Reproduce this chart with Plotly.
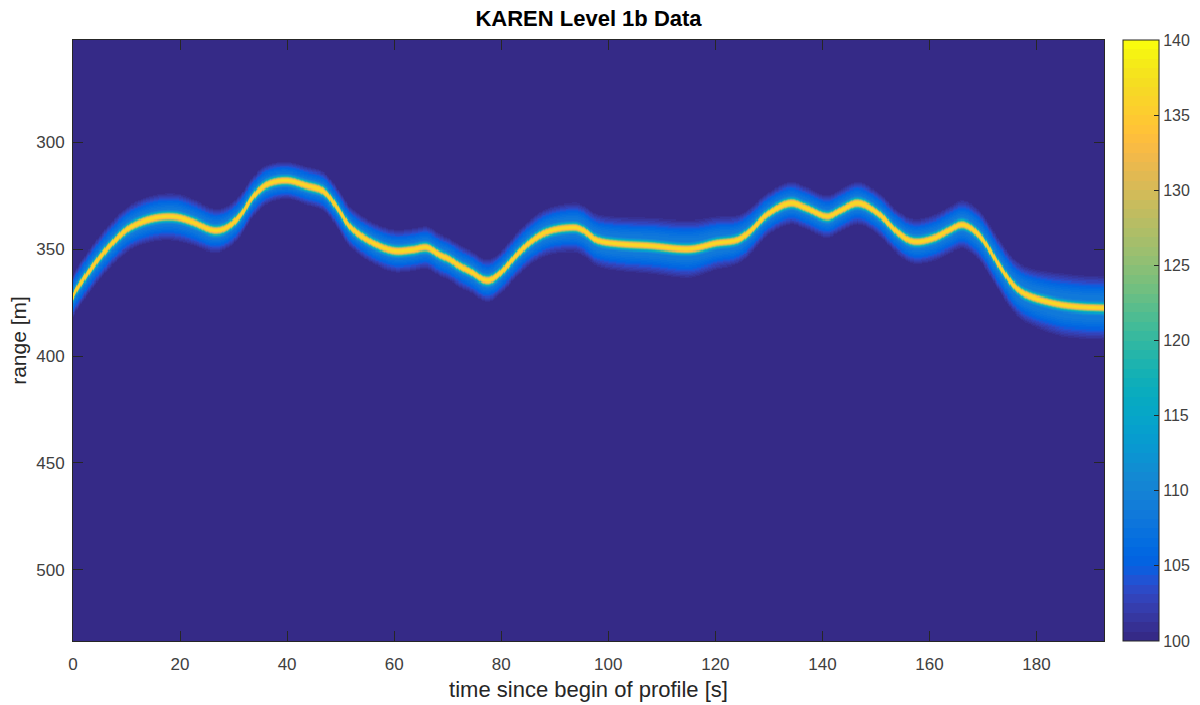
import numpy as np
import plotly.graph_objects as go

# ---- data ----
# centre line of the echo (time [s], range [m])
center_time = [0.0, 0.4, 3.8, 6.9, 10.0, 13.1, 16.2, 19.4, 22.5, 26.2, 28.7, 31.2, 33.7, 36.2,
               39.9, 43.6, 46.8, 49.2, 51.7, 55.5, 59.8, 63.5, 66.1, 68.5, 70.4, 72.3, 74.2,
               77.3, 79.8, 82.9, 86.0, 89.1, 93.5, 95.3, 97.8, 101.6, 107.8, 115.2, 120.2,
               124.0, 126.4, 129.6, 133.9, 137.0, 140.8, 143.3, 146.7, 150.7, 153.8, 156.9,
               160.7, 163.8, 166.3, 169.4, 173.1, 175.6, 178.1, 183.7, 188.1, 192.6]
center_range = [372.0, 369.9, 357.9, 348.6, 341.1, 337.2, 335.2, 335.2, 337.6, 341.4, 340.0,
                334.5, 325.5, 320.0, 318.0, 320.5, 323.2, 330.2, 339.5, 346.5, 350.9, 350.4,
                349.4, 352.8, 355.0, 358.2, 360.6, 364.8, 361.3, 352.8, 345.8, 341.6, 340.0,
                341.4, 345.8, 347.6, 348.6, 350.1, 347.3, 345.8, 341.9, 334.1, 328.6, 331.0,
                334.9, 332.1, 328.6, 334.1, 341.9, 346.5, 345.0, 341.1, 338.7, 344.2, 358.2,
                366.8, 371.5, 375.7, 377.2, 377.7]

# spread of the blue halo around the line (time [s], half width [m])
halo_time = [0, 20, 40, 60, 80, 100, 115, 130, 150, 165, 175, 185, 192.6]
halo_width = [8, 9, 7, 8, 8, 10, 11, 8, 8, 9, 10, 12, 12]

# cross-section of the echo: offset from the line [m] -> excess over 100
core_offset = [0.0, 0.5, 1.0, 1.5, 2.0, 2.5, 3.0, 3.5]
core_excess = [28.0, 27.0, 24.0, 17.0, 10.0, 5.0, 2.0, 0.0]
halo_offset = [0.0, 2.0, 4.0, 6.0, 8.0, 10.0, 11.0]
halo_excess = [9.0, 9.0, 8.0, 6.0, 3.0, 0.5, 0.0]

x_ticks = [0, 20, 40, 60, 80, 100, 120, 140, 160, 180]
y_ticks = [300, 350, 400, 450, 500]
c_ticks = [100, 105, 110, 115, 120, 125, 130, 135, 140]

# parula colormap (64 entries)
parula = [
    [0.2081, 0.1663, 0.5292], [0.2116, 0.1898, 0.5777], [0.2123, 0.2138, 0.6270], [0.2081, 0.2386, 0.6771],
    [0.1959, 0.2645, 0.7279], [0.1707, 0.2919, 0.7792], [0.1253, 0.3242, 0.8303], [0.0591, 0.3598, 0.8683],
    [0.0117, 0.3875, 0.8820], [0.0060, 0.4086, 0.8828], [0.0165, 0.4266, 0.8786], [0.0329, 0.4430, 0.8720],
    [0.0498, 0.4586, 0.8641], [0.0629, 0.4737, 0.8554], [0.0723, 0.4887, 0.8467], [0.0779, 0.5040, 0.8384],
    [0.0793, 0.5200, 0.8312], [0.0749, 0.5375, 0.8263], [0.0641, 0.5570, 0.8240], [0.0488, 0.5772, 0.8228],
    [0.0343, 0.5966, 0.8199], [0.0265, 0.6137, 0.8135], [0.0239, 0.6287, 0.8038], [0.0231, 0.6418, 0.7913],
    [0.0228, 0.6535, 0.7768], [0.0267, 0.6642, 0.7607], [0.0384, 0.6743, 0.7436], [0.0590, 0.6838, 0.7254],
    [0.0843, 0.6928, 0.7062], [0.1133, 0.7015, 0.6859], [0.1453, 0.7098, 0.6646], [0.1801, 0.7177, 0.6424],
    [0.2178, 0.7250, 0.6193], [0.2586, 0.7317, 0.5954], [0.3022, 0.7376, 0.5712], [0.3482, 0.7424, 0.5473],
    [0.3953, 0.7459, 0.5244], [0.4420, 0.7481, 0.5033], [0.4871, 0.7491, 0.4840], [0.5300, 0.7491, 0.4661],
    [0.5709, 0.7485, 0.4494], [0.6099, 0.7473, 0.4337], [0.6473, 0.7456, 0.4188], [0.6834, 0.7435, 0.4044],
    [0.7184, 0.7411, 0.3905], [0.7525, 0.7384, 0.3768], [0.7858, 0.7356, 0.3633], [0.8185, 0.7327, 0.3498],
    [0.8507, 0.7299, 0.3360], [0.8824, 0.7274, 0.3217], [0.9139, 0.7258, 0.3063], [0.9450, 0.7261, 0.2886],
    [0.9739, 0.7314, 0.2666], [0.9938, 0.7455, 0.2403], [0.9990, 0.7653, 0.2164], [0.9955, 0.7861, 0.1967],
    [0.9880, 0.8066, 0.1794], [0.9789, 0.8271, 0.1633], [0.9697, 0.8481, 0.1475], [0.9626, 0.8705, 0.1309],
    [0.9589, 0.8949, 0.1132], [0.9598, 0.9218, 0.0948], [0.9661, 0.9514, 0.0755], [0.9763, 0.9831, 0.0538]]


def smooth_curve(xk, yk, xs):
    """Cubic Hermite curve through the read points (finite-difference slopes)."""
    xk = np.asarray(xk, float)
    yk = np.asarray(yk, float)
    m = np.empty_like(yk)
    m[1:-1] = (yk[2:] - yk[:-2]) / (xk[2:] - xk[:-2])
    m[0] = (yk[1] - yk[0]) / (xk[1] - xk[0])
    m[-1] = (yk[-1] - yk[-2]) / (xk[-1] - xk[-2])
    idx = np.clip(np.searchsorted(xk, xs) - 1, 0, len(xk) - 2)
    h = xk[idx + 1] - xk[idx]
    s = (xs - xk[idx]) / h
    h00 = 2 * s**3 - 3 * s**2 + 1
    h10 = s**3 - 2 * s**2 + s
    h01 = -2 * s**3 + 3 * s**2
    h11 = s**3 - s**2
    return h00 * yk[idx] + h10 * h * m[idx] + h01 * yk[idx + 1] + h11 * h * m[idx + 1]


# ---- build the field ----
t = np.arange(0.0, 192.6 + 1e-9, 0.25)
r = np.arange(252.0, 534.0 + 1e-9, 0.5)
c = smooth_curve(center_time, center_range, t)
w = np.interp(t, halo_time, halo_width)
d = np.abs(r[:, None] - c[None, :])
z = (100.0 + np.interp(d, core_offset, core_excess)
     + np.interp(d * 8.0 / w[None, :], halo_offset, halo_excess))
z = z.astype(np.float32)

n = len(parula)
cs = []
for i, (R, G, B) in enumerate(parula):
    col = "rgb(%d,%d,%d)" % (round(R * 255), round(G * 255), round(B * 255))
    cs.append([i / n, col])
    cs.append([(i + 1) / n, col])

FONT = "Liberation Sans, Arial, sans-serif"

fig = go.Figure(go.Heatmap(
    x=t, y=r, z=z, zmin=100, zmax=140, colorscale=cs, hoverinfo="skip",
    colorbar=dict(
        x=(1123 - 73) / 1031, xanchor="left", xpad=0,
        y=0.5, yanchor="middle", ypad=0,
        lenmode="pixels", len=601, thickness=36,
        outlinecolor="#262626", outlinewidth=1,
        tickvals=c_ticks, ticks="inside", ticklen=5, tickcolor="#262626",
        tickfont=dict(family=FONT, size=16, color="#404040"),
    ),
))

axis_common = dict(
    showgrid=False, zeroline=False, showline=True, linecolor="#262626", linewidth=1,
    mirror="ticks", ticks="inside", ticklen=10, tickcolor="#262626",
    tickfont=dict(family=FONT, size=17, color="#404040"),
)

fig.update_layout(
    width=1200, height=705,
    margin=dict(l=73, r=96, t=40, b=64, autoexpand=False),
    paper_bgcolor="white", plot_bgcolor="#352a87",
    font=dict(family=FONT, color="#262626"),
    title=dict(text="<b>KAREN Level 1b Data</b>", x=0.5, xref="paper", xanchor="center",
               y=1 - 18 / 705, yref="container", yanchor="middle",
               font=dict(size=22, color="#000000")),
    xaxis=dict(axis_common, range=[0, 192.6], tickvals=x_ticks, ticklabelstandoff=8,
               title=dict(text="time since begin of profile [s]", standoff=8,
                          font=dict(size=22, color="#262626"))),
    yaxis=dict(axis_common, range=[533.2, 252.3], tickvals=y_ticks, ticklabelstandoff=4,
               title=dict(text="range [m]", standoff=3,
                          font=dict(size=21, color="#262626"))),
)

fig.write_html("out.html")
